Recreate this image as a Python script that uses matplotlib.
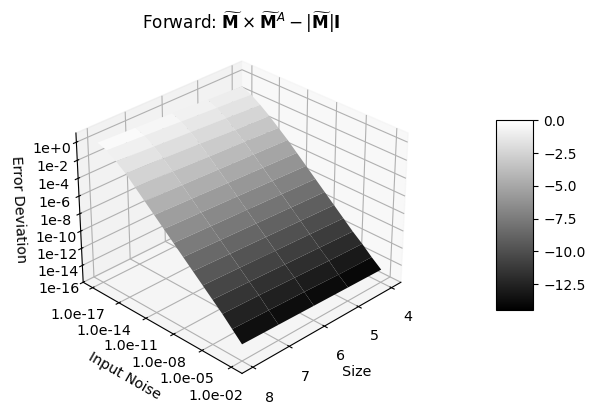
import numpy as np
import matplotlib
import matplotlib.pyplot as plt

matplotlib.use("Agg")

sizes = [4, 5, 6, 7, 8]
noise_exp = [-17, -16, -15, -14, -13, -12, -11, -10, -9, -8, -7, -6, -5, -4, -3, -2]
# log10 error deviation, one row per noise level, one column per size
err_s4 = [-0.9, -1.4, -2.1, -2.9, -3.8, -4.7, -5.7, -6.7, -7.7, -8.7, -9.7, -10.7, -11.7, -12.6, -13.6, -14.5]
err_s5 = [-0.7, -1.15, -1.85, -2.7, -3.55, -4.5, -5.5, -6.5, -7.5, -8.5, -9.5, -10.5, -11.5, -12.45, -13.5, -14.4]
err_s6 = [-0.45, -0.9, -1.6, -2.4, -3.35, -4.3, -5.3, -6.3, -7.3, -8.3, -9.3, -10.3, -11.3, -12.25, -13.3, -14.3]
err_s7 = [-0.25, -0.65, -1.35, -2.15, -3.1, -4.1, -5.1, -6.1, -7.1, -8.1, -9.1, -10.1, -11.1, -12.05, -13.15, -14.2]
err_s8 = [-0.05, -0.4, -1.1, -1.9, -2.9, -3.9, -4.9, -5.9, -6.9, -7.9, -8.9, -9.9, -10.9, -11.9, -13.0, -14.1]
z_ticks = [0, -2, -4, -6, -8, -10, -12, -14, -16]
z_labels = ["1e+0", "1e-2", "1e-4", "1e-6", "1e-8", "1e-10", "1e-12", "1e-14", "1e-16"]
noise_ticks = [-17, -14, -11, -8, -5, -2]
noise_labels = ["1.0e-17", "1.0e-14", "1.0e-11", "1.0e-08", "1.0e-05", "1.0e-02"]

X, Y = np.meshgrid(sizes, noise_exp)
Z = np.array([err_s4, err_s5, err_s6, err_s7, err_s8]).T

fig = plt.figure(figsize=(5.96, 4.15), dpi=100)
ax = fig.add_axes([0.033, 0.054, 0.73, 0.86], projection="3d")
surf = ax.plot_surface(X, Y, Z, cmap="gray", linewidth=0, antialiased=True,
                       rstride=1, cstride=1, vmin=-14.5, vmax=0)
ax.view_init(elev=30, azim=45)
ax.set_xticks(sizes)
ax.set_yticks(noise_ticks)
ax.set_yticklabels(noise_labels)
ax.set_zticks(z_ticks)
ax.set_zticklabels(z_labels)
ax.set_zlim(-16, 1)
ax.set_xlabel("Size", fontsize=10.3, labelpad=5)
ax.set_ylabel("Input Noise", fontsize=10.3, labelpad=7)
ax.set_zlabel("Error Deviation", fontsize=10.3)
ax.tick_params(axis="x", labelsize=10.3, pad=5)
ax.tick_params(axis="y", labelsize=10.3, pad=4)
ax.tick_params(axis="z", labelsize=10.3, pad=2)
fig.text(0.405, 0.93, r"Forward: $\widetilde{\mathbf{M}} \times \widetilde{\mathbf{M}}^{A} - |\widetilde{\mathbf{M}}|\mathbf{I}$",
         ha="center", fontsize=12.2)

cax = fig.add_axes([0.832, 0.252, 0.063, 0.458])
fig.colorbar(surf, cax=cax)
fig.savefig("out.png", dpi=100)
